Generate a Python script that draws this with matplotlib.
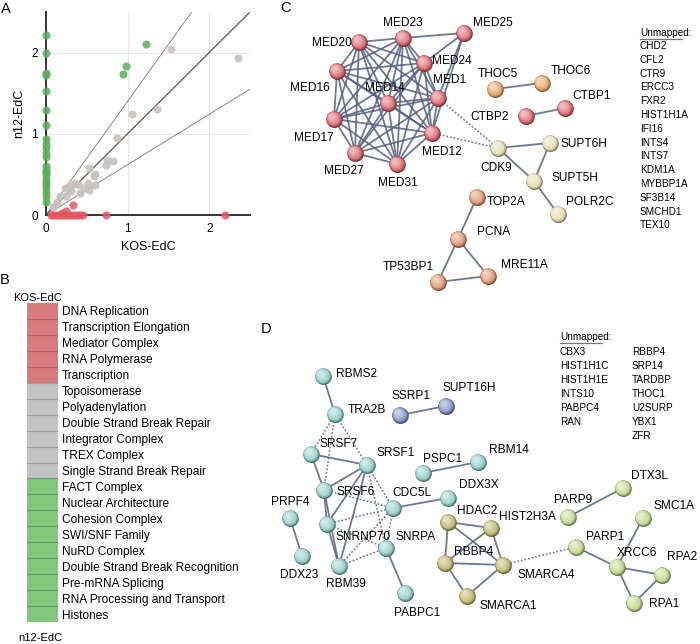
import matplotlib
matplotlib.use("Agg")
import matplotlib.pyplot as plt
import numpy as np
from matplotlib.colors import ListedColormap, to_rgb

plt.rcParams['font.family'] = ['Liberation Sans', 'DejaVu Sans']

# ---------------- panel A data ----------------
green_axis_y = [2.22, 2.0, 1.75, 1.72, 1.53, 1.29, 1.11, 0.94, 0.88, 0.82, 0.76, 0.72,
                0.6, 0.56, 0.53, 0.5, 0.45, 0.41, 0.37, 0.32, 0.27, 0.22, 0.16]
green_x = [1.22, 0.98, 0.94]
green_y = [2.1, 1.84, 1.74]
grey_x = [1.53, 2.35, 1.06, 1.36, 0.87, 0.75, 0.73, 0.82, 0.53, 0.60, 0.59, 0.60, 0.53,
          0.52, 0.42, 0.40, 0.36, 0.29, 0.23, 0.17, 0.13, 0.09, 0.31, 0.46, 0.25]
grey_y = [2.05, 1.93, 1.25, 1.30, 0.95, 0.68, 0.62, 0.66, 0.58, 0.51, 0.48, 0.37, 0.31,
          0.39, 0.27, 0.37, 0.40, 0.37, 0.33, 0.23, 0.16, 0.10, 0.29, 0.33, 0.23]
red_axis_x = [0.06, 0.09, 0.12, 0.15, 0.18, 0.21, 0.24, 0.27, 0.30, 0.33, 0.36, 0.39,
              0.42, 0.45, 0.74, 2.19]
red_x = [0.33, 0.19, 0.25]
red_y = [0.12, 0.02, 0.05]
slopes = [1.4, 1.0, 0.62]

# ---------------- panel B data ----------------
categories = ["DNA Replication", "Transcription Elongation", "Mediator Complex",
              "RNA Polymerase", "Transcription", "Topoisomerase", "Polyadenylation",
              "Double Strand Break Repair", "Integrator Complex", "TREX Complex",
              "Single Strand Break Repair", "FACT Complex", "Nuclear Architecture",
              "Cohesion Complex", "SWI/SNF Family", "NuRD Complex",
              "Double Strand Break Recognition", "Pre-mRNA Splicing",
              "RNA Processing and Transport", "Histones"]
cat_group = [0] * 5 + [1] * 6 + [2] * 9  # 0 KOS only, 1 both, 2 n12 only

# ---------------- panel C network ----------------
c_group = {"MED23": "red", "MED25": "red", "MED20": "red", "MED24": "red", "MED16": "red",
           "MED14": "red", "MED1": "red", "MED17": "red", "MED12": "red", "MED27": "red",
           "MED31": "red", "THOC5": "orange", "THOC6": "orange", "CTBP2": "red",
           "CTBP1": "red", "CDK9": "beige", "SUPT6H": "beige", "SUPT5H": "beige",
           "POLR2C": "beige", "TOP2A": "salmon", "PCNA": "salmon", "TP53BP1": "salmon",
           "MRE11A": "salmon"}
med_core = ["MED20", "MED23", "MED24", "MED16", "MED14", "MED1", "MED17", "MED12",
            "MED27", "MED31"]
c_edges = [(a, b) for i, a in enumerate(med_core) for b in med_core[i + 1:]]
c_edges += [("MED25", "MED23"), ("MED25", "MED24"), ("MED25", "MED1"), ("MED25", "MED12"),
            ("THOC5", "THOC6"), ("CTBP2", "CTBP1"), ("CDK9", "SUPT6H"),
            ("CDK9", "SUPT5H"), ("SUPT6H", "SUPT5H"), ("SUPT5H", "POLR2C"),
            ("TOP2A", "PCNA"), ("PCNA", "TP53BP1"), ("PCNA", "MRE11A"),
            ("TP53BP1", "MRE11A")]
c_dashed = [("MED1", "CDK9"), ("MED12", "CDK9")]
c_unmapped = ["CHD2", "CFL2", "CTR9", "ERCC3", "FXR2", "HIST1H1A", "IFI16", "INTS4",
              "INTS7", "KDM1A", "MYBBP1A", "SF3B14", "SMCHD1", "TEX10"]

# ---------------- panel D network ----------------
d_group = {"RBMS2": "cyan", "TRA2B": "cyan", "SSRP1": "blue", "SUPT16H": "blue",
           "SRSF7": "cyan", "SRSF1": "cyan", "PSPC1": "cyan", "RBM14": "cyan",
           "SRSF6": "cyan", "DDX3X": "cyan", "CDC5L": "cyan", "PRPF4": "cyan",
           "SNRNP70": "cyan", "SNRPA": "cyan", "DDX23": "cyan", "RBM39": "cyan",
           "PABPC1": "cyan", "HDAC2": "olive", "RBBP4u": "olive", "RBBP4": "olive",
           "SMARCA4": "olive", "SMARCA1": "olive", "PARP9": "lime", "DTX3L": "lime",
           "SMC1A": "lime", "PARP1": "lime", "XRCC6": "lime", "RPA2": "lime",
           "RPA1": "lime"}
d_edges = [("RBMS2", "TRA2B"), ("SSRP1", "SUPT16H"), ("SRSF7", "SRSF1"),
           ("SRSF7", "SRSF6"), ("SRSF1", "SRSF6"), ("SRSF1", "SNRNP70"),
           ("SRSF1", "RBM39"), ("SRSF6", "SNRNP70"), ("SNRNP70", "RBM39"),
           ("SRSF6", "RBM39"), ("CDC5L", "DDX3X"), ("SNRPA", "PABPC1"),
           ("PSPC1", "RBM14"), ("PRPF4", "DDX23"), ("HDAC2", "RBBP4u"),
           ("HDAC2", "RBBP4"), ("HDAC2", "SMARCA4"), ("RBBP4", "RBBP4u"),
           ("RBBP4", "SMARCA4"), ("RBBP4", "SMARCA1"), ("SMARCA4", "SMARCA1"),
           ("RBBP4u", "SMARCA4"), ("PARP9", "DTX3L"), ("PARP1", "XRCC6"),
           ("SMC1A", "XRCC6"), ("XRCC6", "RPA2"), ("XRCC6", "RPA1"), ("RPA2", "RPA1")]
d_dashed = [("TRA2B", "SRSF7"), ("TRA2B", "SRSF6"), ("TRA2B", "SRSF1"),
            ("SRSF1", "CDC5L"), ("SRSF1", "SNRPA"), ("SRSF6", "CDC5L"),
            ("SNRNP70", "SNRPA"), ("SNRNP70", "CDC5L"), ("RBM39", "SNRPA"),
            ("RBM39", "CDC5L"), ("CDC5L", "SNRPA"), ("SMARCA4", "PARP1")]
d_unmapped_1 = ["CBX3", "HIST1H1C", "HIST1H1E", "INTS10", "PABPC4", "RAN"]
d_unmapped_2 = ["RBBP4", "SRP14", "TARDBP", "THOC1", "U2SURP", "YBX1", "ZFR"]

# layout of the network drawings (pixel space of the figure)
c_pos = {"MED23": (403, 38), "MED25": (464, 33), "MED20": (359, 42), "MED24": (424, 63),
         "MED16": (337, 71), "MED14": (388, 103), "MED1": (438, 98), "MED17": (334, 119),
         "MED12": (432, 133), "MED27": (355, 153), "MED31": (397, 164),
         "THOC5": (495, 89), "THOC6": (542, 83), "CTBP2": (526, 116), "CTBP1": (565, 108),
         "CDK9": (498, 148), "SUPT6H": (550, 143), "SUPT5H": (534, 181),
         "POLR2C": (558, 214), "TOP2A": (477, 197), "PCNA": (458, 239),
         "TP53BP1": (438, 282), "MRE11A": (488, 276)}
c_lab = {"MED23": (403, 23), "MED25": (493, 23), "MED20": (332, 43), "MED24": (452, 61),
         "MED16": (310, 88), "MED14": (385, 88), "MED1": (450, 80), "MED17": (314, 138),
         "MED12": (442, 152), "MED27": (344, 171), "MED31": (398, 183),
         "THOC5": (498, 74), "THOC6": (571, 71), "CTBP2": (490, 117), "CTBP1": (592, 96),
         "CDK9": (496, 168), "SUPT6H": (584, 144), "SUPT5H": (575, 178),
         "POLR2C": (590, 202), "TOP2A": (506, 202), "PCNA": (494, 232),
         "TP53BP1": (408, 267), "MRE11A": (524, 265)}
d_pos = {"RBMS2": (323, 376), "TRA2B": (335, 414), "SSRP1": (400, 415),
         "SUPT16H": (446, 406), "SRSF7": (311, 454), "SRSF1": (367, 465),
         "PSPC1": (423, 473), "RBM14": (478, 462), "SRSF6": (324, 490),
         "DDX3X": (448, 498), "CDC5L": (393, 508), "PRPF4": (290, 518),
         "SNRNP70": (327, 524), "SNRPA": (386, 548), "DDX23": (302, 556),
         "RBM39": (339, 566), "PABPC1": (405, 593), "HDAC2": (448, 522),
         "RBBP4u": (491, 528), "RBBP4": (445, 563), "SMARCA4": (503, 565),
         "SMARCA1": (467, 596), "PARP9": (568, 517), "DTX3L": (623, 488),
         "SMC1A": (643, 518), "PARP1": (576, 547), "XRCC6": (617, 567),
         "RPA2": (662, 575), "RPA1": (634, 603)}
d_lab = {"RBMS2": (357, 374), "TRA2B": (367, 410), "SSRP1": (411, 396),
         "SUPT16H": (469, 388), "SRSF7": (339, 444), "SRSF1": (396, 453),
         "PSPC1": (443, 459), "RBM14": (509, 450), "SRSF6": (356, 492),
         "DDX3X": (479, 485), "CDC5L": (412, 493), "PRPF4": (290, 502),
         "SNRNP70": (363, 537), "SNRPA": (416, 537), "DDX23": (299, 575),
         "RBM39": (346, 584), "PABPC1": (417, 613), "HDAC2": (477, 511),
         "PARP9": (573, 500), "DTX3L": (649, 476), "SMC1A": (674, 506),
         "PARP1": (605, 537), "RBBP4": (474, 552), "XRCC6": (637, 553),
         "RPA2": (682, 557), "SMARCA4": (546, 575), "SMARCA1": (508, 606),
         "RPA1": (664, 604)}
d_extra_lab = [("HIST2H3A", 527, 517)]

node_colors = {"red": "#d9646c", "orange": "#e6a366", "beige": "#e6dcb0",
               "salmon": "#de9470", "cyan": "#92cdc8", "blue": "#7f90c4",
               "olive": "#bdb76c", "lime": "#c5d68c"}
edge_col = "#55617f"

W, H = 700, 644
fig = plt.figure(figsize=(W / 100, H / 100), dpi=100)


def box(l, t, r, b):
    return [l / W, 1 - b / H, (r - l) / W, (b - t) / H]


# ---------------- A: scatter ----------------
ax = fig.add_axes(box(46, 12, 250, 215))
ax.set_xlim(0, 2.5)
ax.set_ylim(0, 2.5)
for v in [1, 2]:
    ax.axvline(v, color="#e6e6e6", lw=0.8, zorder=0)
    ax.axhline(v, color="#e6e6e6", lw=0.8, zorder=0)
xs = np.array([0, 2.5])
for s in slopes:
    ax.plot(xs, s * xs, color="#666666" if s == 1.0 else "#888888",
            lw=1.0 if s == 1.0 else 0.7, zorder=1)
kw = dict(s=34, lw=0, clip_on=False, zorder=3)
ax.scatter(grey_x, grey_y, color="#c9c2bf", alpha=0.9, **kw)
ax.scatter(red_axis_x, np.zeros(len(red_axis_x)), color="#e25862", alpha=0.85, **kw)
ax.scatter(red_x, red_y, color="#e25862", alpha=0.85, **kw)
ax.scatter(np.zeros(len(green_axis_y)), green_axis_y, color="#5cae5c", alpha=0.85, **kw)
ax.scatter(green_x, green_y, color="#5cae5c", alpha=0.85, **kw)
for side in ["top", "right"]:
    ax.spines[side].set_visible(False)
for side in ["left", "bottom"]:
    ax.spines[side].set_color("#333333")
    ax.spines[side].set_linewidth(1.4)
    ax.spines[side].set_zorder(2)
ax.set_xticks([0, 1, 2])
ax.set_yticks([0, 1, 2])
ax.tick_params(length=0, labelsize=8.5, pad=6)
ax.set_xlabel("KOS-EdC", fontsize=9, labelpad=4)
ax.set_ylabel("n12-EdC", fontsize=9, labelpad=4)

# ---------------- B: heatmap column ----------------
axb = fig.add_axes(box(27, 303, 58, 622))
cmap = ListedColormap(["#d77b7c", "#c3c3c3", "#82c77c"])
axb.imshow(np.array(cat_group)[:, None], cmap=cmap, aspect="auto", vmin=0, vmax=2,
           interpolation="nearest")
for i in range(1, len(cat_group)):
    axb.axhline(i - 0.5, color="#000000", alpha=0.18, lw=0.9)
axb.set_xticks([])
axb.set_yticks(range(len(categories)))
axb.set_yticklabels(categories, fontsize=8.6)
axb.yaxis.tick_right()
axb.tick_params(length=0, pad=3)
for sp in axb.spines.values():
    sp.set_visible(False)

# ---------------- overlay for text + networks ----------------
ov = fig.add_axes([0, 0, 1, 1], zorder=5)
ov.set_xlim(0, W)
ov.set_ylim(H, 0)
ov.axis("off")
ov.patch.set_alpha(0)

for letter, x, y in [("A", 1, 2), ("B", 0, 273), ("C", 280, 1), ("D", 261, 322)]:
    ov.text(x, y, letter, fontsize=10.5, ha="left", va="top")
ov.text(38, 298, "KOS-EdC", fontsize=8, ha="center", va="center")
ov.text(40, 638, "n12-EdC", fontsize=8, ha="center", va="center")


def draw_net(pos, groups, edges, dashed):
    for a, b in edges:
        ov.plot([pos[a][0], pos[b][0]], [pos[a][1], pos[b][1]], color=edge_col,
                lw=1.3, alpha=0.85, zorder=1, solid_capstyle="round")
    for a, b in dashed:
        ov.plot([pos[a][0], pos[b][0]], [pos[a][1], pos[b][1]], color=edge_col,
                lw=1.1, ls=(0, (1.2, 1.2)), alpha=0.85, zorder=1)
    names = list(pos)
    px = np.array([pos[n][0] for n in names], float)
    py = np.array([pos[n][1] for n in names], float)
    base = np.array([to_rgb(node_colors[groups[n]]) for n in names])
    # shaded spheres: dark rim then lighter layers towards upper-left
    ov.scatter(px + 0.6, py + 0.8, s=140, color=base * 0.55, lw=0, zorder=2)
    ov.scatter(px, py, s=125, color=base * 0.85, lw=0, zorder=3)
    n = 6
    for k in range(1, n + 1):
        f = k / n
        col = base + (1 - base) * 0.55 * f
        ov.scatter(px - 2.2 * f, py - 2.4 * f, s=115 * (1 - 0.8 * f) ** 1.2,
                   color=np.clip(col, 0, 1), lw=0, zorder=3 + k)


draw_net(c_pos, c_group, c_edges, c_dashed)
draw_net(d_pos, d_group, d_edges, d_dashed)

for name, (x, y) in c_lab.items():
    ov.text(x, y, name, fontsize=8.6, ha="center", va="center", zorder=20)
for name, (x, y) in d_lab.items():
    ov.text(x, y, name, fontsize=8.6, ha="center", va="center", zorder=20)
for name, x, y in d_extra_lab:
    ov.text(x, y, name, fontsize=8.6, ha="center", va="center", zorder=20)

# unmapped lists
ov.text(640, 33, "Unmapped:", fontsize=7.2, ha="left", va="center")
ov.plot([640, 682], [38.5, 38.5], color="#777777", lw=0.9)
for i, g in enumerate(c_unmapped):
    ov.text(640, 46 + i * 13.8, g, fontsize=7.2, ha="left", va="center")

ov.text(560, 337, "Unmapped:", fontsize=7.2, ha="left", va="center")
ov.plot([560, 602], [342.5, 342.5], color="#777777", lw=0.9)
for i, g in enumerate(d_unmapped_1):
    ov.text(560, 352 + i * 14, g, fontsize=7.2, ha="left", va="center")
for i, g in enumerate(d_unmapped_2):
    ov.text(632, 352 + i * 14, g, fontsize=7.2, ha="left", va="center")

fig.savefig("out.png", dpi=100)
